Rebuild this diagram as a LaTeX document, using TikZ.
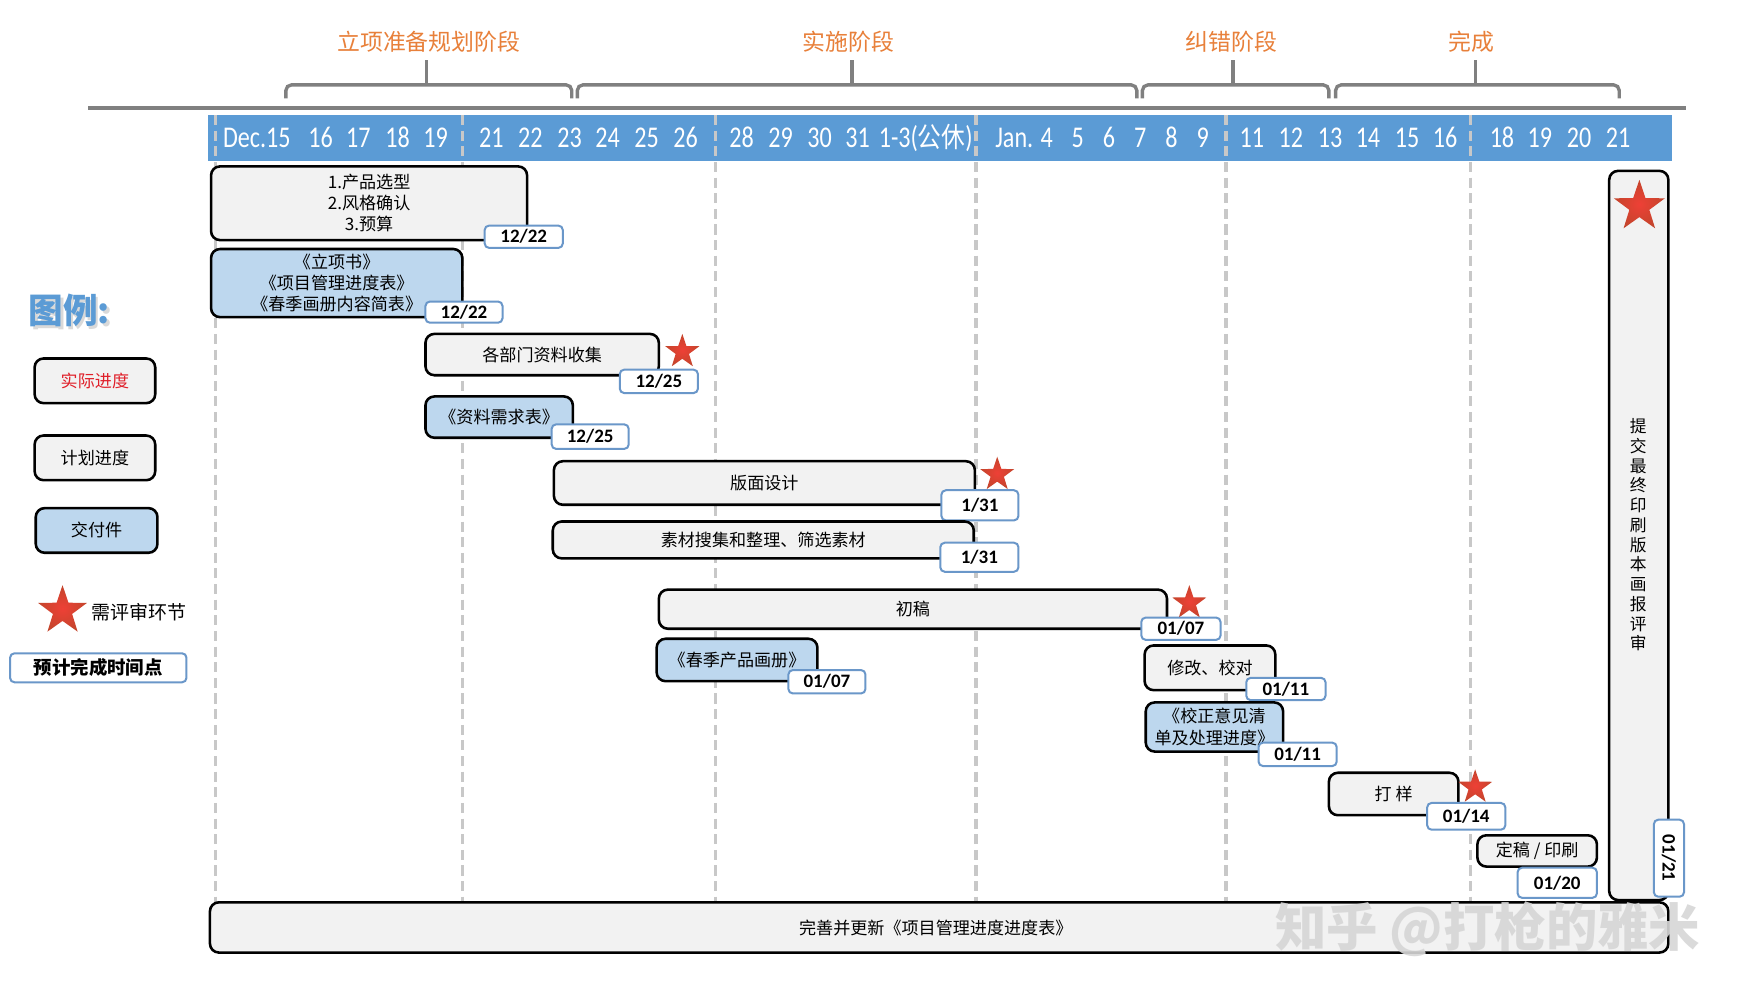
\documentclass[tikz,border=0pt]{standalone}
\usepackage{fontspec}
\setmainfont{Carlito}
\newfontfamily\cjk{Noto Sans CJK SC}
\newfontfamily\hdr[FakeStretch=0.8]{Carlito}
\newfontfamily\hcjk[FakeStretch=0.85]{Noto Sans CJK SC}
\usetikzlibrary{shapes.geometric}
\definecolor{bandblue}{HTML}{5B9BD5}
\definecolor{delfill}{HTML}{BDD7EE}
\definecolor{taskfill}{HTML}{F2F2F2}
\definecolor{dateblue}{HTML}{6A97C9}
\definecolor{phaseor}{HTML}{E8803A}
\definecolor{bracegray}{HTML}{808080}
\definecolor{dashgray}{HTML}{C8C8C8}
\definecolor{starin}{HTML}{EE4036}
\definecolor{starout}{HTML}{C4452C}
\definecolor{legred}{HTML}{E0202A}
\tikzset{
  task/.style={draw=black, line width=2.3pt, fill=taskfill, rounded corners=8pt, inner sep=0pt, align=center, font=\cjk\fontsize{15.3}{19}\selectfont},
  deliv/.style={task, fill=delfill},
  datebox/.style={draw=dateblue, line width=1.8pt, fill=white, rounded corners=4pt, inner sep=0pt, font=\bfseries\fontsize{17}{17}\selectfont},
  revstar/.style={star, star points=5, star point ratio=2.55, inner sep=0pt, minimum size=32pt, draw=none, shading=radial, inner color=starin, outer color=starout},
  phase/.style={font=\cjk\fontsize{20.5}{22}\selectfont, text=phaseor},
  bracepath/.style={draw=bracegray, line width=3pt, rounded corners=5pt},
  gridline/.style={draw=dashgray, line width=3pt, dash pattern=on 9pt off 5pt},
  hdrtext/.style={font=\hdr\fontsize{27}{27}\selectfont, text=white, anchor=base, inner sep=0pt},
}
\begin{document}
\begin{tikzpicture}[x=1pt, y=-1pt]
\useasboundingbox (0,0) rectangle (1568,900);
\fill[white] (0,0) rectangle (1568,900);

% phase labels and braces
\node[phase] (p1) at (384,37) {立项准备规划阶段};
\node[phase] (p2) at (760,37) {实施阶段};
\node[phase] (p3) at (1103,37) {纠错阶段};
\node[phase] (p4) at (1318,37) {完成};
\foreach \a/\b/\c in {256/512/382, 517/1018/763, 1023/1190/1104, 1196/1450/1321}{
  \draw[bracepath] (\a,88) -- (\a,76) -- (\b,76) -- (\b,88);
  \draw[draw=bracegray, line width=3pt] (\c,77) -- (\c,54);
}
\draw[draw=bracegray, line width=3.5pt] (79,97) -- (1510,97);

% header band
\fill[bandblue] (186,103) rectangle (1497,144);
\foreach \x/\t [count=\i] in {230/Dec.15, 287/16, 321/17, 356/18, 390/19,
  440/21, 475/22, 510/23, 544/24, 579/25, 614/26,
  664/28, 699/29, 734/30, 768/31, 829/{1-3({\hcjk\fontsize{25}{25}\selectfont 公休})},
  917/{Jan. 4}, 965/5, 993/6, 1021/7, 1049/8, 1077/9,
  1121/11, 1156/12, 1191/13, 1225/14, 1260/15, 1294/16,
  1345/18, 1379/19, 1414/20, 1449/21}{
  \node[hdrtext] (h\i) at (\x,132) {\t};
}

% grid lines
\foreach \x/\n in {193/a, 414/b, 641/c, 874/d, 1098/e, 1317/f}{
  \coordinate (gt\n) at (\x,103);
  \coordinate (gb\n) at (\x,808);
  \draw[gridline] (gt\n) -- (gb\n);
}

% legend
\node[font=\cjk\bfseries\fontsize{31}{31}\selectfont, text=gray!30] (lgs) at (64.5,280.5) {图例:};
\node[font=\cjk\bfseries\fontsize{31}{31}\selectfont, text=bandblue] (lg) at (62,278) {图例:};
\node[task, minimum width=108pt, minimum height=40pt, text=legred] (l1) at (85,341) {实际进度};
\node[task, minimum width=108pt, minimum height=40pt] (l2) at (85,410) {计划进度};
\node[deliv, minimum width=109pt, minimum height=40pt] (l3) at (86.5,475) {交付件};
\node[revstar, minimum size=46pt] (l4) at (56,547) {};
\node[font=\cjk\fontsize{17}{17}\selectfont, anchor=west, inner sep=0pt] (l5) at (82,548) {需评审环节};
\node[datebox, font=\cjk\bfseries\fontsize{16.5}{16.5}\selectfont, minimum width=158pt, minimum height=26pt] (l6) at (88,598) {预计完成时间点};

% tasks and deliverables
\node[task, minimum width=283pt, minimum height=66pt] (t1) at (330.5,182) {1.产品选型\\2.风格确认\\3.预算};
\node[datebox, minimum width=70pt, minimum height=20pt] (d1) at (469,212) {12/22};

\node[deliv, minimum width=225pt, minimum height=61pt] (b1) at (301.5,253.5) {《立项书》\\《项目管理进度表》\\《春季画册内容简表》};
\node[datebox, minimum width=69pt, minimum height=19pt] (d2) at (415.5,279.5) {12/22};

\node[task, minimum width=209pt, minimum height=37pt] (t2) at (485.5,317.5) {各部门资料收集};
\node[revstar] (s2) at (611,315) {};
\node[datebox, minimum width=70pt, minimum height=21pt] (d3) at (590,341.5) {12/25};

\node[deliv, minimum width=132pt, minimum height=37pt] (b2) at (447,373.5) {《资料需求表》};
\node[datebox, minimum width=69pt, minimum height=22pt] (d4) at (528.5,391) {12/25};

\node[task, minimum width=377pt, minimum height=39pt] (t3) at (684.5,432.5) {版面设计};
\node[revstar] (s3) at (893,425) {};
\node[datebox, minimum width=69pt, minimum height=27pt] (d5) at (877.5,452.5) {1/31};

\node[task, minimum width=377pt, minimum height=33pt] (t4) at (683.5,483.5) {素材搜集和整理、筛选素材};
\node[datebox, minimum width=70pt, minimum height=26pt] (d6) at (877,499) {1/31};

\node[task, minimum width=455pt, minimum height=35pt] (t5) at (817.5,545.5) {初稿};
\node[revstar] (s5) at (1065,540) {};
\node[datebox, minimum width=71pt, minimum height=20pt] (d7) at (1057.5,563) {01/07};

\node[deliv, minimum width=144pt, minimum height=38pt] (b3) at (660,591) {《春季产品画册》};
\node[datebox, minimum width=69pt, minimum height=21pt] (d8) at (740.5,610.5) {01/07};

\node[task, minimum width=117pt, minimum height=40pt] (t6) at (1083.5,598) {修改、校对};
\node[datebox, minimum width=71pt, minimum height=20pt] (d9) at (1151.5,617) {01/11};

\node[deliv, minimum width=123pt, minimum height=44pt] (b4) at (1087.5,651) {《校正意见清\\单及处理进度》};
\node[datebox, minimum width=70pt, minimum height=21pt] (d10) at (1162,675.5) {01/11};

\node[task, minimum width=116pt, minimum height=38pt] (t7) at (1248,711) {打\ 样};
\node[revstar] (s7) at (1321,705) {};
\node[datebox, minimum width=70pt, minimum height=24pt] (d11) at (1313,731) {01/14};

\node[task, minimum width=107pt, minimum height=28pt] (t8) at (1376.5,762) {定稿 / 印刷};
\node[datebox, minimum width=71pt, minimum height=27pt] (d12) at (1394.5,790.5) {01/20};

% final review column
\node[task, minimum width=53pt, minimum height=653pt] (t9) at (1467.5,479.5) {};
\node[font=\cjk\fontsize{15}{17.7}\selectfont, align=center, inner sep=0pt] (t9t) at (1467,479) {提\\交\\最\\终\\印\\刷\\版\\本\\画\\报\\评\\审};
\node[revstar, minimum size=48pt] (s9) at (1468,185) {};
\node[datebox, rotate=-90, minimum width=69pt, minimum height=27pt] (d13) at (1494.5,768.5) {01/21};

% bottom bar
\node[task, minimum width=1306pt, minimum height=45pt] (t10) at (841,830.5) {};
\node[font=\cjk\fontsize{15.3}{15.3}\selectfont, inner sep=0pt] (t10t) at (838,831) {完善并更新《项目管理进度进度表》};

% watermark
\node[font=\cjk\bfseries\fontsize{46}{46}\selectfont, text=gray!32, opacity=0.9, anchor=west, inner sep=0pt] (wm) at (1142,832) {知乎 @打枪的雅米};
\end{tikzpicture}
\end{document}
